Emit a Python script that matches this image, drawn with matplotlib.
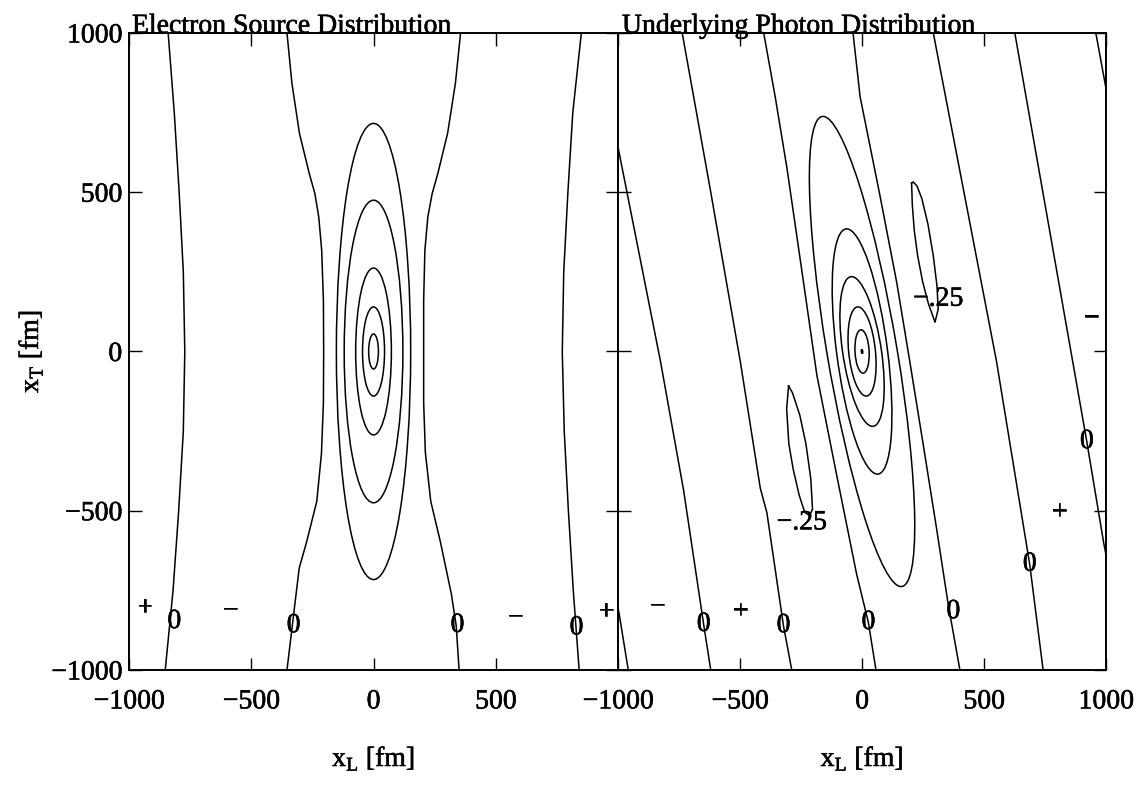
import matplotlib
matplotlib.use("Agg")
import matplotlib.pyplot as plt
import matplotlib.patheffects as pe
from matplotlib.patches import Ellipse
from matplotlib.transforms import Affine2D
import numpy as np

plt.rcParams['font.family'] = ['Liberation Serif', 'DejaVu Serif']
plt.rcParams['mathtext.fontset'] = 'custom'
plt.rcParams['mathtext.rm'] = 'Liberation Serif'
plt.rcParams['axes.unicode_minus'] = True

# ---- Electron source distribution (left) ----
# open zero contours, points (x_L, x_T) in fm
elec_zero_a = [(-840, 1000), (-815, 750), (-795, 500), (-778, 250), (-772, 0),
               (-778, -250), (-797, -500), (-820, -750), (-852, -1000)]
elec_zero_b = [(-354, 1000), (-334, 843), (-303, 685), (-263, 559), (-240, 496),
               (-224, 422), (-212, 317), (-205, 160), (-204, 0), (-205, -160),
               (-213, -320), (-232, -470), (-273, -596), (-304, -680),
               (-327, -827), (-354, -1000)]
elec_zero_c = [(356, 1000), (335, 843), (303, 685), (263, 559), (240, 496),
               (222, 422), (210, 317), (205, 160), (205, 0), (205, -160),
               (212, -317), (234, -470), (273, -596), (296, -680),
               (318, -760), (338, -860), (350, -1000)]
elec_zero_d = [(850, 1000), (815, 750), (795, 500), (778, 250), (772, 0),
               (780, -250), (797, -500), (817, -750), (841, -1000)]

# nested closed contours around the origin: half width / half height
elec_half_w = [152, 120, 73, 45, 20]
elec_half_h = [716, 475, 262, 140, 55]

# sign / level labels
elec_marks = ['+', '0', '\u2212', '0', '0', '\u2212', '0', '+']
elec_marks_x = [-935, -815, -587, -327, 343, 579, 830, 951]
elec_marks_y = [-806, -848, -815, -861, -860, -837, -868, -818]

# ---- Underlying photon distribution (right) ----
phot_zero_0 = [(-1005, -790), (-997, -816), (-958, -1000)]
phot_zero_1 = [(-1010, 680), (-990, 603), (-826, -31), (-731, -437),
               (-649, -857), (-620, -1000)]
phot_zero_2 = [(-737, 1000), (-622, 509), (-499, -31), (-417, -429),
               (-390, -506), (-322, -861), (-288, -1000)]
phot_zero_3 = [(-403, 1000), (-356, 800), (-308, 577), (-246, 250),
               (-185, -75), (-104, -388), (-22, -700), (26, -851), (57, -1000)]
phot_zero_4 = [(-37, 1000), (-8, 800), (74, 487), (142, 217), (196, -33),
               (251, -294), (305, -554), (353, -794), (401, -1000)]
phot_zero_5 = [(292, 1000), (551, -31), (687, -668), (742, -1000)]
phot_zero_6 = [(626, 1000), (921, -283), (990, -600), (1020, -720)]
phot_zero_7 = [(958, 1000), (1001, 820), (1020, 740)]

# the two small -0.25 loops
phot_loop_up = [(203, 529), (206, 460), (214, 380), (228, 300), (248, 220),
                (272, 150), (299, 92), (312, 133), (307, 206), (292, 300),
                (270, 400), (245, 480), (225, 520), (210, 532), (203, 529)]
phot_loop_down = [(-301, -108), (-309, -180), (-300, -290), (-282, -370),
                  (-258, -450), (-235, -505), (-215, -515), (-203, -495),
                  (-210, -400), (-230, -290), (-255, -200), (-285, -130),
                  (-301, -108)]

# tilted closed contours: top point (x, y) and half width at x_T = 0
phot_top_x = [-1, -4, -17, -43, -63, -160]
phot_top_y = [6, 68, 140, 235, 385, 738]
phot_half_w = [3, 29, 55, 80, 105, 145]

phot_marks = ['\u2212', '0', '+', '0', '0', '0', '0', '+', '0', '\u2212',
              '\u2212.25', '\u2212.25']
phot_marks_x = [-840, -649, -499, -322, 26, 374, 687, 810, 921, 939, 312, -247]
phot_marks_y = [-803, -857, -817, -861, -851, -817, -668, -506, -283, 103, 164, -538]

ticks = [-1000, -500, 0, 500, 1000]
tick_text = ['\u22121000', '\u2212500', '0', '500', '1000']

fs = 20
ink = [pe.withStroke(linewidth=0.4, foreground='black')]

fig = plt.figure(figsize=(11.43, 7.85), dpi=100)
ax1 = fig.add_axes([0.1129, 0.1465, 0.4278, 0.8115])
ax2 = fig.add_axes([0.5407, 0.1465, 0.4270, 0.8115])

lw = 1.1
for ax in (ax1, ax2):
    ax.set_xlim(-1000, 1000)
    ax.set_ylim(-1000, 1000)
    ax.set_xticks(ticks)
    ax.set_yticks(ticks)
    ax.tick_params(direction='in', top=True, right=True, length=9, width=1.0,
                   labelsize=fs)
    ax.tick_params(axis='x', pad=14)
    ax.tick_params(axis='y', pad=5)
    for s in ax.spines.values():
        s.set_linewidth(1.4)
    ax.set_xlabel('x$_\\mathrm{L}$ [fm]', fontsize=fs, path_effects=ink)
    ax.xaxis.set_label_coords(0.5, -0.118)

# left panel
for line in (elec_zero_a, elec_zero_b, elec_zero_c, elec_zero_d):
    xs, ys = zip(*line)
    ax1.plot(xs, ys, color='black', lw=lw)
for w, h in zip(elec_half_w, elec_half_h):
    ax1.add_patch(Ellipse((0, 0), 2 * w, 2 * h, fill=False, ec='black', lw=lw))
for t, x, y in zip(elec_marks, elec_marks_x, elec_marks_y):
    ax1.text(x, y, t, fontsize=fs, ha='center', va='center', path_effects=ink)

ax1.set_xticklabels(tick_text[:-1] + [''])
ax1.set_yticklabels(tick_text)
ax1.set_ylabel('x$_\\mathrm{T}$ [fm]', fontsize=fs, path_effects=ink)
ax1.yaxis.set_label_coords(-0.172, 0.5)
ax1.text(0.006, 1.0, 'Electron Source Distribution', transform=ax1.transAxes,
         fontsize=fs, ha='left', va='baseline', path_effects=ink)

# right panel
for line in (phot_zero_0, phot_zero_1, phot_zero_2, phot_zero_3, phot_zero_4,
             phot_zero_5, phot_zero_6, phot_zero_7, phot_loop_up, phot_loop_down):
    xs, ys = zip(*line)
    ax2.plot(xs, ys, color='black', lw=lw)
for xt, yt, w in zip(phot_top_x, phot_top_y, phot_half_w):
    shear = Affine2D().skew(np.arctan2(xt, yt), 0)
    ax2.add_patch(Ellipse((0, 0), 2 * w, 2 * yt, fill=False, ec='black', lw=lw,
                          transform=shear + ax2.transData))
for t, x, y in zip(phot_marks, phot_marks_x, phot_marks_y):
    ax2.text(x, y, t, fontsize=fs, ha='center', va='center', path_effects=ink)

ax2.set_xticklabels(tick_text)
ax2.set_yticklabels([])
ax2.text(0.008, 1.0, 'Underlying Photon Distribution', transform=ax2.transAxes,
         fontsize=fs, ha='left', va='baseline', path_effects=ink)

for ax in (ax1, ax2):
    for lab in ax.get_xticklabels() + ax.get_yticklabels():
        lab.set_path_effects(ink)

fig.savefig('out.png', dpi=100)
